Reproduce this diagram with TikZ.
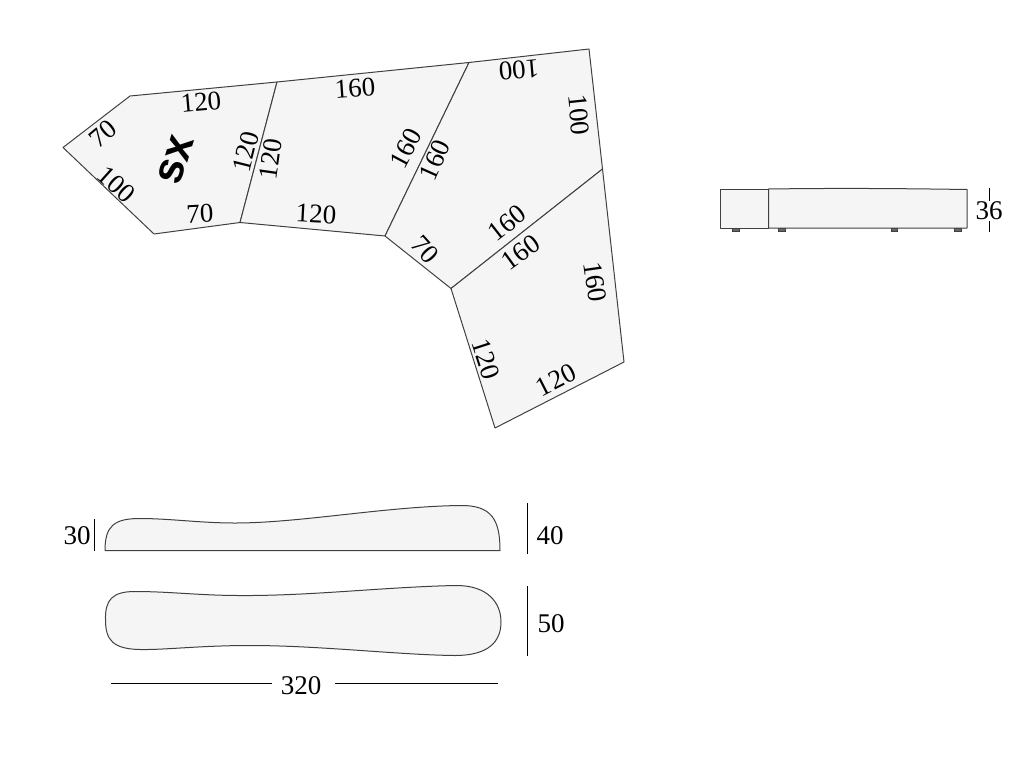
\documentclass[tikz,border=0pt]{standalone}
\usepackage{fontspec}
\setmainfont{Liberation Serif}
\setsansfont{Liberation Sans}
\usepackage{tikz}

\begin{document}
\begin{tikzpicture}[x=1pt,y=-1pt,
                    seat/.style={draw=black!75,fill=black!4,line width=1pt,line join=round},
                    size label/.style={font=\fontsize{27}{27}\selectfont,inner sep=1pt},
                    dim line/.style={draw=black,line width=0.9pt}]
  \useasboundingbox (0,0) rectangle (1024,768);

  % plan
  \coordinate (a1) at (63,147.5);
  \coordinate (a2) at (130,96);
  \coordinate (a3) at (277,82);
  \coordinate (a4) at (240,222.5);
  \coordinate (a5) at (154,234);
  \coordinate (b3) at (469,62.5);
  \coordinate (b4) at (385,236);
  \coordinate (c3) at (589,49);
  \coordinate (c4) at (602.5,169);
  \coordinate (c5) at (451,288.5);
  \coordinate (d3) at (624,362);
  \coordinate (d4) at (495,428);

  \draw[seat] (a1) -- (a2) -- (a3) -- (a4) -- (a5) -- cycle;
  \draw[seat] (a3) -- (b3) -- (b4) -- (a4) -- cycle;
  \draw[seat] (b3) -- (c3) -- (c4) -- (c5) -- (b4) -- cycle;
  \draw[seat] (c4) -- (d3) -- (d4) -- (c5) -- cycle;

  \node[size label,rotate=5] (a top) at (201,102) {120};
  \node[size label,rotate=40] (a short) at (103,134) {70};
  \node[size label,rotate=-42] (a long) at (116,184) {100};
  \node[size label,rotate=3] (a bottom) at (200,214) {70};
  \node[size label,rotate=76] (a side) at (246,152) {120};
  \node[font=\sffamily\bfseries\fontsize{44}{44}\selectfont,inner sep=0pt,rotate=73] (side name) at (176,160) {sx};

  \node[size label,rotate=82] (b left) at (271,159) {120};
  \node[size label,rotate=4] (b top) at (355,88) {160};
  \node[size label,rotate=-3] (b bottom) at (316,214) {120};
  \node[size label,rotate=62] (b side) at (406,148) {160};

  \node[size label,rotate=66] (c left) at (435,160) {160};
  \node[size label,rotate=185] (c top) at (519,70) {100};
  \node[size label,rotate=-84] (c right) at (579,115) {100};
  \node[size label,rotate=38] (c bottom) at (507,223) {160};
  \node[size label,rotate=-48] (c short) at (425,250) {70};

  \node[size label,rotate=36] (d top) at (521,252) {160};
  \node[size label,rotate=-82] (d right) at (595,282) {160};
  \node[size label,rotate=-72] (d left) at (486,359) {120};
  \node[size label,rotate=27] (d bottom) at (556,380) {120};

  % side view
  \draw[draw=black!75,fill=black!60] (732,228) rectangle (739,231.5);
  \draw[draw=black!75,fill=black!60] (778,228) rectangle (785,231.5);
  \draw[draw=black!75,fill=black!60] (891,228) rectangle (897,231.5);
  \draw[draw=black!75,fill=black!60] (954,228) rectangle (961,231.5);
  \coordinate (e1) at (720.5,189);
  \coordinate (e2) at (768.5,189);
  \coordinate (e3) at (967,189.5);
  \coordinate (e4) at (967,228);
  \coordinate (e5) at (768.5,228);
  \coordinate (e6) at (720.5,228);
  \draw[seat] (e1) -- (e2) -- (e5) -- (e6) -- cycle;
  \draw[seat] (e2) .. controls (840,188) and (900,188.5) .. (e3) -- (e4) -- (e5) -- cycle;

  \node[size label] (h seat) at (989,211) {36};
  \coordinate (h top) at (989,188);
  \coordinate (h bottom) at (989,232);
  \draw[dim line] (h top) -- (h seat.north);
  \draw[dim line] (h seat.south) -- (h bottom);

  % front view
  \draw[seat] (105,550.5) .. controls (105,526) and (114,518.5) .. (140,518.5)
    .. controls (170,518.5) and (200,523) .. (235,523)
    .. controls (300,523) and (385,506.5) .. (460,505.5)
    .. controls (492,505) and (500,520) .. (500,550.5) -- cycle;
  \coordinate (f1) at (94,519);
  \coordinate (f2) at (94,551);
  \coordinate (f3) at (527.5,503);
  \coordinate (f4) at (527.5,554);
  \draw[dim line] (f1) -- (f2);
  \draw[dim line] (f3) -- (f4);
  \node[size label] (f low) at (77,536) {30};
  \node[size label] (f high) at (550,536) {40};

  % top view
  \draw[seat] (105.5,620) .. controls (105,600) and (112,591.5) .. (135,591.5)
    .. controls (170,591.5) and (200,595.5) .. (240,595.5)
    .. controls (310,596) and (385,587) .. (455,585.5)
    .. controls (488,585) and (501,603) .. (501,622)
    .. controls (501,642) and (488,655.5) .. (455,655.5)
    .. controls (400,655) and (320,645.5) .. (250,645.5)
    .. controls (200,645.5) and (165,650) .. (140,649.5)
    .. controls (113,649) and (105.5,640) .. (105.5,620) -- cycle;
  \coordinate (g1) at (527.5,586);
  \coordinate (g2) at (527.5,656);
  \draw[dim line] (g1) -- (g2);
  \node[size label] (g depth) at (551,624) {50};

  \node[size label] (g width) at (301,686) {320};
  \coordinate (g3) at (111,683);
  \coordinate (g4) at (272,683);
  \coordinate (g5) at (335,683);
  \coordinate (g6) at (498,683);
  \draw[dim line] (g3) -- (g4);
  \draw[dim line] (g5) -- (g6);
\end{tikzpicture}
\end{document}
